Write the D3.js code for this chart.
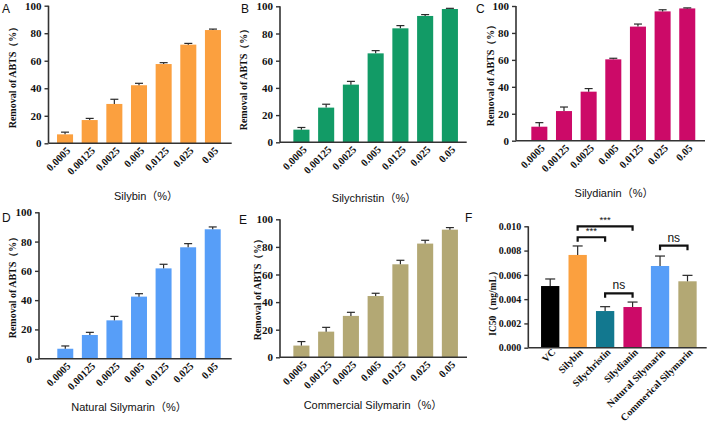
<!DOCTYPE html>
<html><head><meta charset="utf-8">
<script src="https://cdn.jsdelivr.net/npm/d3@7"></script>
<style>
html,body{margin:0;padding:0;background:#fff;}
svg{display:block;}
</style>
</head><body>
<svg id="chart" width="709" height="425"></svg>
<script>
// ---------- data ----------
const concentrations = ["0.0005","0.00125","0.0025","0.005","0.0125","0.025","0.05"];
const yTicksPct = [0,20,40,60,80,100];

const silybinMean      = [6.5, 16.9, 28.6, 42.2, 57.6, 71.7, 82.3];
const silybinSD        = [1.6, 1.2, 3.4, 1.4, 1.0, 0.9, 0.7];
const silychristinMean = [9.3, 25.5, 42.4, 65.4, 83.8, 92.9, 98.0];
const silychristinSD   = [1.6, 2.5, 2.4, 2.0, 2.0, 1.0, 0.5];
const silydianinMean   = [10.4, 22.0, 36.4, 60.4, 84.7, 96.0, 98.2];
const silydianinSD     = [3.0, 3.0, 2.3, 0.8, 1.9, 1.2, 0.4];
const naturalMean      = [6.8, 16.2, 26.2, 42.4, 61.7, 76.1, 88.4];
const naturalSD        = [1.9, 1.8, 2.7, 2.0, 2.8, 2.5, 1.6];
const commercialMean   = [8.5, 18.6, 30.0, 44.4, 67.4, 82.4, 92.5];
const commercialSD     = [2.9, 3.1, 2.6, 2.0, 2.9, 2.4, 1.5];

const icCategories = ["VC","Silybin","Silychristin","Silydianin","Natural Silymarin","Commerical Silymarin"];
const icMean = [0.00508, 0.00764, 0.00302, 0.00335, 0.00673, 0.00547];
const icSD   = [0.00058, 0.00074, 0.00036, 0.00041, 0.00082, 0.00049];
const icTicks = [0, 0.002, 0.004, 0.006, 0.008, 0.010];
const sigPairs = [
  {a:"Silybin", b:"Silychristin", y:0.0091, label:"***"},
  {a:"Silybin", b:"Silydianin", y:0.0100, label:"***"},
  {a:"Silychristin", b:"Silydianin", y:0.00448, label:"ns"},
  {a:"Natural Silymarin", b:"Commerical Silymarin", y:0.0084, label:"ns"}
];

// ---------- styling ----------
const colors = {
  orange:"#FBA03F", green:"#129B66", magenta:"#CC0A68", blue:"#579EF8",
  khaki:"#B3A874", teal:"#12788F", black:"#000000"
};
const icColors = [colors.black, colors.orange, colors.teal, colors.magenta, colors.blue, colors.khaki];
const serif = "'Liberation Serif','Times New Roman',serif";
const sans = "'Liberation Sans',Arial,'Noto Sans CJK SC',sans-serif";
const axisColor = "#333";

const svg = d3.select("#chart");

function drawPanel(cfg){
  const g = svg.append("g");
  const x = d3.scaleBand().domain(cfg.cats).range([cfg.r0, cfg.r1]).paddingInner(cfg.pad).paddingOuter(cfg.pad);
  const y = d3.scaleLinear().domain([0, cfg.ymax]).range([cfg.bottom, cfg.top]);

  g.selectAll("rect.bar").data(cfg.means).join("rect")
    .attr("x",(d,i)=>x(cfg.cats[i]))
    .attr("width",x.bandwidth())
    .attr("y",d=>y(d))
    .attr("height",d=>y(0)-y(d))
    .attr("fill",(d,i)=>Array.isArray(cfg.color)?cfg.color[i]:cfg.color);

  const eb = g.append("g").attr("stroke","#2a2a2a").attr("stroke-width",1.2).attr("fill","none");
  cfg.means.forEach((m,i)=>{
    const cx = x(cfg.cats[i]) + x.bandwidth()/2;
    eb.append("line").attr("x1",cx).attr("x2",cx).attr("y1",y(m)).attr("y2",y(m+cfg.sd[i]));
    eb.append("line").attr("x1",cx-cfg.cap/2).attr("x2",cx+cfg.cap/2).attr("y1",y(m+cfg.sd[i])).attr("y2",y(m+cfg.sd[i]));
  });

  const yAxis = d3.axisLeft(y).tickValues(cfg.yticks).tickSize(4).tickPadding(3).tickFormat(cfg.fmt);
  const ya = g.append("g").attr("transform",`translate(${cfg.left},0)`).call(yAxis);
  ya.select(".domain").attr("stroke",axisColor).attr("stroke-width",1.6).attr("d",`M0,${cfg.bottom}V${cfg.top}`);
  ya.selectAll(".tick line").attr("stroke",axisColor).attr("stroke-width",1.4);
  ya.selectAll(".tick text").attr("font-family",serif).attr("font-weight","bold").attr("font-size",cfg.ytickSize).attr("fill","#111");

  const xAxis = d3.axisBottom(x).tickSize(0).tickPadding(0);
  const xa = g.append("g").attr("transform",`translate(0,${cfg.bottom})`).call(xAxis);
  xa.select(".domain").attr("stroke",axisColor).attr("stroke-width",1.6).attr("d",`M${cfg.left},0H${cfg.right}`);
  xa.selectAll(".tick text")
    .attr("font-family",serif).attr("font-weight","bold").attr("font-size",cfg.xtickSize).attr("fill","#111")
    .attr("text-anchor","end").attr("dy",null).attr("y",null)
    .attr("transform",`translate(${cfg.xlabDx},${cfg.xlabDy}) rotate(-45)`);

  g.append("text").attr("transform",`translate(${cfg.ytx},${cfg.yty}) rotate(-90)`)
    .attr("text-anchor","middle").attr("dominant-baseline","middle")
    .attr("font-family",serif).attr("font-weight","bold").attr("font-size",cfg.ytitleSize).attr("fill","#111")
    .text(cfg.ytitle);
  if(cfg.xtitle){
    g.append("text").attr("x",cfg.xtx).attr("y",cfg.xty).attr("text-anchor","middle")
      .attr("font-family",sans).attr("font-size",11).attr("fill","#111").text(cfg.xtitle);
  }
  g.append("text").attr("x",cfg.lx).attr("y",cfg.ly).attr("font-family",sans).attr("font-size",12).attr("fill","#111").text(cfg.letter);
  return {g,x,y};
}

const pctCommon = {cats:concentrations, ymax:100, yticks:yTicksPct, fmt:d3.format("d"), pad:0.35, cap:8,
  ytickSize:11, xtickSize:10.5, ytitleSize:10, xlabDx:6, xlabDy:8, ytitle:"Removal of ABTS（%）"};

drawPanel({...pctCommon, means:silybinMean, sd:silybinSD, color:colors.orange,
  left:48.5, right:231.7, top:5.7, bottom:143.3, r0:48.4, r1:229.6,
  ytx:14, yty:75, xtitle:"Silybin（%）", xtx:146, xty:200, letter:"A", lx:2, ly:13});
drawPanel({...pctCommon, means:silychristinMean, sd:silychristinSD, color:colors.green,
  left:280, right:466.7, top:6.3, bottom:142.3, r0:284.7, r1:466.6,
  ytx:245, yty:77, xtitle:"Silychristin（%）", xtx:374, xty:202, letter:"B", lx:241, ly:13});
drawPanel({...pctCommon, means:silydianinMean, sd:silydianinSD, color:colors.magenta,
  left:516, right:705, top:6, bottom:140.7, r0:522.7, r1:703.9,
  ytx:491.5, yty:73, xtitle:"Silydianin（%）", xtx:614, xty:197, letter:"C", lx:476, ly:13});
drawPanel({...pctCommon, means:naturalMean, sd:naturalSD, color:colors.blue,
  left:39, right:231.7, top:212.3, bottom:358.7, r0:48.7, r1:229.3,
  ytx:13.5, yty:285, xtitle:"Natural Silymarin（%）", xtx:129, xty:411, letter:"D", lx:2, ly:222});
drawPanel({...pctCommon, means:commercialMean, sd:commercialSD, color:colors.khaki,
  left:280, right:467, top:219.3, bottom:357.3, r0:284.7, r1:466.6,
  ytx:258.5, yty:287, xtitle:"Commercial Silymarin（%）", xtx:373, xty:409, letter:"E", lx:239, ly:224});

const F = drawPanel({cats:icCategories, means:icMean, sd:icSD, color:icColors, ymax:0.010, yticks:icTicks,
  fmt:d3.format(".3f"), pad:0.333, cap:10, ytickSize:10, xtickSize:10, ytitleSize:9.5, xlabDx:6, xlabDy:5,
  ytitle:"IC50（mg/mL）", left:528.3, right:706.7, top:226.3, bottom:347.7, r0:531.9, r1:705.8,
  ytx:493.5, yty:301, xtitle:null, letter:"F", lx:465, ly:222});

const bg = F.g.append("g");
sigPairs.forEach(p=>{
  const xa = F.x(p.a)+F.x.bandwidth()/2, xb = F.x(p.b)+F.x.bandwidth()/2, yy = F.y(p.y);
  bg.append("path").attr("d",`M${xa},${yy+4.5}V${yy}H${xb}V${yy+4.5}`)
    .attr("fill","none").attr("stroke","#111").attr("stroke-width",2.2);
  bg.append("text").attr("x",(xa+xb)/2).attr("y",p.label==="ns"?yy-4:yy-3).attr("text-anchor","middle")
    .attr("font-family",sans).attr("font-size",p.label==="ns"?12:9.5).attr("fill","#111").text(p.label);
});
</script>
</body></html>
